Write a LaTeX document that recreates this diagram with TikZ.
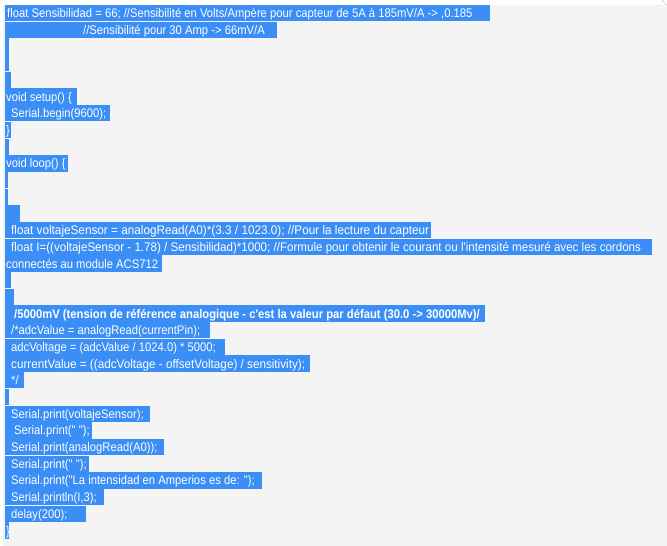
\documentclass[tikz,border=0pt]{standalone}
\usepackage{fontspec}
\newfontfamily\cf{Liberation Sans}[FakeStretch=0.9]
\definecolor{hlblue}{RGB}{58,142,246}
\definecolor{bggray}{RGB}{244,244,244}
\tikzset{
  hl/.style={fill=hlblue},
  txt/.style={anchor=base west, inner sep=0pt, text=white, font=\cf\fontsize{12.5}{14}\selectfont},
  btxt/.style={txt, font=\cf\bfseries\fontsize{12.5}{14}\selectfont}
}
\begin{document}
\begin{tikzpicture}[x=1pt,y=-1pt]
\useasboundingbox (0,0) rectangle (667,546);
\fill[white] (0,0) rectangle (667,546);
\fill[bggray] (3,5) rectangle (667,546);
\begin{scope}
\clip (0,0) rectangle (667,546);
\draw[gray!60, fill=white] (675,-6) circle (14);
\end{scope}
% highlight bars
\foreach \i/\w in {1/490,2/277,3/8.5,4/8.5,5/11,6/77,7/110,8/11,9/8.5,10/68,11/8,12/8,13/20,14/431,15/652,16/162,17/11,18/14,19/485,20/210,21/225,22/310,23/24,24/8.5,25/150,26/92,27/164,28/89,29/262,30/104,31/86,32/9}
  \fill[hl] (5,{5+(\i-1)*16.69}) rectangle (\w,{5+\i*16.69-0.4});
% text lines
\node[txt] (t1) at (7,17.6) {float Sensibilidad = 66; //Sensibilité en Volts/Ampère pour capteur de 5A à 185mV/A -> ,0.185};
\node[txt] (t2) at (83,34.3) {//Sensibilité pour 30 Amp -> 66mV/A};
\node[txt] (t6) at (6,101.0) {void setup() \{};
\node[txt] (t7) at (11,117.7) {Serial.begin(9600);};
\node[txt] (t8) at (6,134.4) {\}};
\node[txt] (t10) at (6,167.8) {void loop() \{};
\node[txt] (t14) at (11,234.6) {\scalebox{1.045}[1]{float voltajeSensor = analogRead(A0)*(3.3 / 1023.0); //Pour la lecture du capteur}};
\node[txt] (t15) at (11,251.3) {\scalebox{1.03}[1]{float I=((voltajeSensor - 1.78) / Sensibilidad)*1000; //Formule pour obtenir le courant ou l'intensité mesuré avec les cordons}};
\node[txt] (t16) at (6,268.0) {connectés au module ACS712};
\node[btxt] (t19) at (14,318.0) {/5000mV (tension de référence analogique - c'est la valeur par défaut (30.0 -> 30000Mv)/};
\node[txt] (t20) at (11,334.7) {/*adcValue = analogRead(currentPin);};
\node[txt] (t21) at (11,351.4) {adcVoltage = (adcValue / 1024.0) * 5000;};
\node[txt] (t22) at (11,368.1) {\scalebox{1.04}[1]{currentValue = ((adcVoltage - offsetVoltage) / sensitivity);}};
\node[txt] (t23) at (11,384.8) {*/};
\node[txt] (t25) at (11,418.2) {Serial.print(voltajeSensor);};
\node[txt] (t26) at (14,434.9) {Serial.print(" ");};
\node[txt] (t27) at (11,451.5) {Serial.print(analogRead(A0));};
\node[txt] (t28) at (11,468.2) {Serial.print(" ");};
\node[txt] (t29) at (11,484.9) {Serial.print("La intensidad en Amperios es de: ");};
\node[txt] (t30) at (11,501.6) {Serial.println(I,3);};
\node[txt] (t31) at (11,518.3) {delay(200);};
\node[txt] (t32) at (6,535.0) {\}};
\end{tikzpicture}
\end{document}
